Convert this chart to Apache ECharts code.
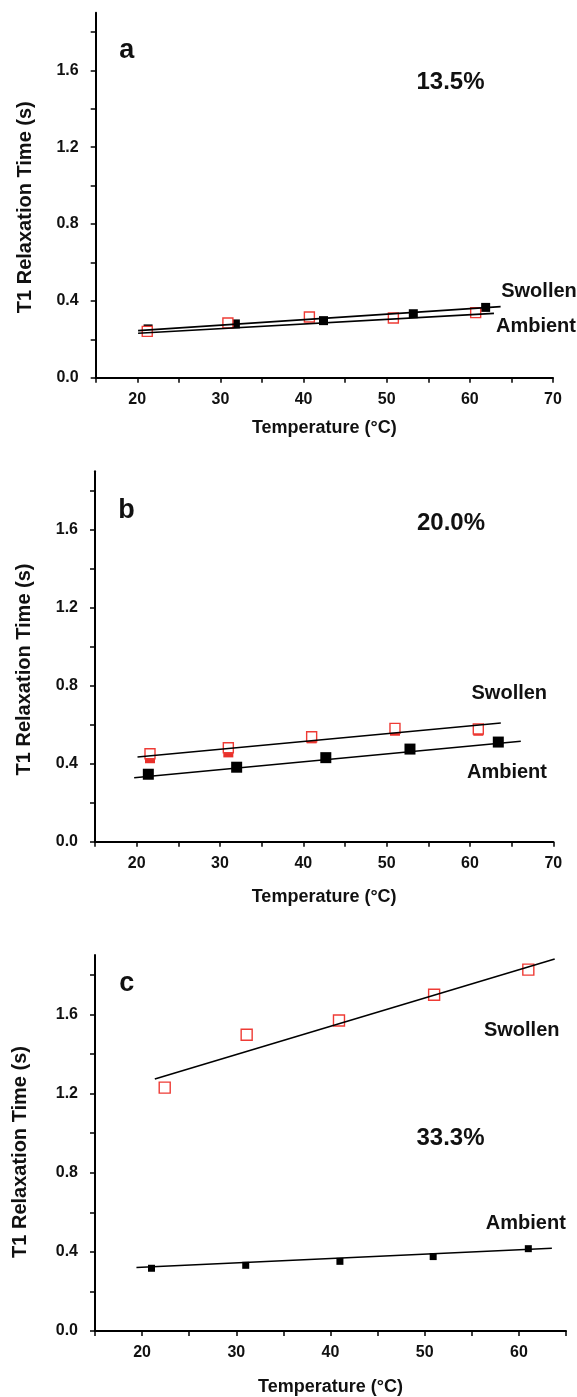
<!DOCTYPE html>
<html>
<head>
<meta charset="utf-8">
<title>T1 relaxation</title>
<script src="https://cdn.jsdelivr.net/npm/echarts@6/dist/echarts.min.js"></script>
<style>
  html, body { margin: 0; padding: 0; background: #fff; }
  #main { width: 577px; height: 1397px; }
</style>
</head>
<body>
<div id="main"></div>
<script>
// ticks and labels
const yTicks = [0, 0.2, 0.4, 0.6, 0.8, 1.0, 1.2, 1.4, 1.6, 1.8];
const yLabels = [0, 0.4, 0.8, 1.2, 1.6];
const xTicksAB = [15, 20, 25, 30, 35, 40, 45, 50, 55, 60, 65, 70];
const xLabelsAB = [20, 30, 40, 50, 60, 70];
const xTicksC = [15, 20, 25, 30, 35, 40, 45, 50, 55, 60, 65];
const xLabelsC = [20, 30, 40, 50, 60];

// panel a (13.5%)
const aAmbT = [21.3, 31.8, 42.4, 53.2, 61.9];
const aAmbV = [0.254, 0.280, 0.297, 0.333, 0.366];
const aSwoT = [21.2, 30.9, 40.7, 50.8, 60.7];
const aSwoV = [0.241, 0.285, 0.316, 0.311, 0.339];
const aFitUpT = [20.1, 63.7];
const aFitUpV = [0.245, 0.370];
const aFitLoT = [20.1, 62.9];
const aFitLoV = [0.231, 0.335];

// panel b (20.0%)
const bAmbT = [21.4, 32.0, 42.7, 52.8, 63.4];
const bAmbV = [0.346, 0.382, 0.431, 0.475, 0.511];
const bSwoT = [21.6, 31.0, 41.0, 51.0, 61.0];
const bSwoV = [0.451, 0.482, 0.538, 0.581, 0.578];
const bSwoUnderV = [0.428, 0.458, 0.530, 0.569, 0.569];
const bFitSwoT = [20.1, 63.7];
const bFitSwoV = [0.434, 0.609];
const bFitAmbT = [19.7, 66.1];
const bFitAmbV = [0.328, 0.515];

// panel c (33.3%)
const cAmbT = [21.0, 31.0, 41.0, 50.9, 61.0];
const cAmbV = [0.317, 0.332, 0.352, 0.376, 0.416];
const cSwoT = [22.4, 31.1, 40.9, 51.0, 61.0];
const cSwoV = [1.230, 1.497, 1.569, 1.699, 1.826];
const cFitSwoT = [21.35, 63.8];
const cFitSwoV = [1.273, 1.880];
const cFitAmbT = [19.4, 63.5];
const cFitAmbV = [0.321, 0.418];

const FONT = '"Liberation Sans", Arial, sans-serif';
const RED = '#ee3b35';

function pairs(xs, ys) {
  return xs.map((x, i) => [x, ys[i]]);
}

function xAxisOf(idx, max, ticks, labels, gap) {
  return {
    type: 'value', gridIndex: idx, min: 15, max: max,
    name: 'Temperature (\u00B0C)', nameLocation: 'middle', nameGap: gap,
    nameTextStyle: { fontFamily: FONT, fontWeight: 'bold', fontSize: 18, color: '#111' },
    axisLine: { show: true, lineStyle: { color: '#000', width: 2 } },
    axisTick: { show: true, inside: false, length: 5, customValues: ticks, lineStyle: { color: '#000', width: 1.5 } },
    axisLabel: { customValues: labels, margin: 14, fontFamily: FONT, fontWeight: 'bold', fontSize: 16, color: '#111' },
    splitLine: { show: false }
  };
}

// shift = how far the rotated name sits below the middle of the axis
function yAxisOf(idx, gap, shift) {
  return {
    type: 'value', gridIndex: idx, min: 0, max: 1.9,
    name: 'T1 Relaxation Time (s)', nameLocation: 'middle', nameGap: gap,
    nameTextStyle: { fontFamily: FONT, fontWeight: 'bold', fontSize: 20, color: '#111',
      padding: [0, shift * 2, 0, 0] },
    axisLine: { show: true, lineStyle: { color: '#000', width: 2 } },
    axisTick: { show: true, inside: false, length: 5, customValues: yTicks, lineStyle: { color: '#000', width: 1.5 } },
    axisLabel: { customValues: yLabels, margin: 17, fontFamily: FONT, fontWeight: 'bold', fontSize: 16, color: '#111',
      formatter: v => v.toFixed(1) },
    splitLine: { show: false }
  };
}

function fitLine(idx, xs, ys) {
  return {
    type: 'line', xAxisIndex: idx, yAxisIndex: idx, data: pairs(xs, ys),
    showSymbol: false, symbol: 'none', silent: true, z: 5,
    lineStyle: { color: '#000', width: 1.6 }
  };
}

function blackPts(idx, xs, ys, size) {
  return {
    type: 'scatter', xAxisIndex: idx, yAxisIndex: idx, data: pairs(xs, ys),
    symbol: 'rect', symbolSize: size, z: 3,
    itemStyle: { color: '#000', opacity: 1 }
  };
}

function redOpen(idx, xs, ys, size) {
  return {
    type: 'scatter', xAxisIndex: idx, yAxisIndex: idx, data: pairs(xs, ys),
    symbol: 'rect', symbolSize: size, z: 4,
    itemStyle: { color: '#fff', borderColor: RED, borderWidth: 1.4, opacity: 1 }
  };
}

function redFilled(idx, xs, ys, size) {
  return {
    type: 'scatter', xAxisIndex: idx, yAxisIndex: idx, data: pairs(xs, ys),
    symbol: 'rect', symbolSize: size, z: 2,
    itemStyle: { color: '#e8302a', opacity: 1 }
  };
}

function label(x, y, s, size) {
  return {
    type: 'text', x: x, y: y,
    style: { text: s, font: 'bold ' + size + 'px ' + FONT, fill: '#111', align: 'center', verticalAlign: 'middle' }
  };
}

const chart = echarts.init(document.getElementById('main'), null, { renderer: 'canvas' });

chart.setOption({
  backgroundColor: '#fff',
  animation: false,
  grid: [
    { left: 95.7, top: 12.7, width: 457.3, height: 365 },
    { left: 95, top: 471.2, width: 458.3, height: 370.5 },
    { left: 95, top: 955, width: 471, height: 378.3 }
  ],
  xAxis: [
    xAxisOf(0, 70, xTicksAB, xLabelsAB, 41),
    xAxisOf(1, 70, xTicksAB, xLabelsAB, 46),
    xAxisOf(2, 65, xTicksC, xLabelsC, 47)
  ],
  yAxis: [yAxisOf(0, 60, 12), yAxisOf(1, 61, 13), yAxisOf(2, 65, 9)],
  series: [
    blackPts(0, aAmbT, aAmbV, 9),
    redOpen(0, aSwoT, aSwoV, 10),
    fitLine(0, aFitUpT, aFitUpV),
    fitLine(0, aFitLoT, aFitLoV),

    blackPts(1, bAmbT, bAmbV, 11),
    redFilled(1, bSwoT, bSwoUnderV, 10),
    redOpen(1, bSwoT, bSwoV, 10),
    fitLine(1, bFitSwoT, bFitSwoV),
    fitLine(1, bFitAmbT, bFitAmbV),

    blackPts(2, cAmbT, cAmbV, 7),
    redOpen(2, cSwoT, cSwoV, 11),
    fitLine(2, cFitSwoT, cFitSwoV),
    fitLine(2, cFitAmbT, cFitAmbV)
  ],
  graphic: [
    label(126.7, 50.5, 'a', 27),
    label(450.5, 82.3, '13.5%', 24),
    label(539, 291.7, 'Swollen', 20),
    label(536, 326.7, 'Ambient', 20),

    label(126.5, 511, 'b', 27),
    label(451, 523, '20.0%', 24),
    label(509.3, 693.3, 'Swollen', 20),
    label(507, 772.7, 'Ambient', 20),

    label(126.7, 983.5, 'c', 27),
    label(521.7, 1030, 'Swollen', 20),
    label(450.5, 1138.3, '33.3%', 24),
    label(525.8, 1223.3, 'Ambient', 20)
  ]
});
</script>
</body>
</html>
